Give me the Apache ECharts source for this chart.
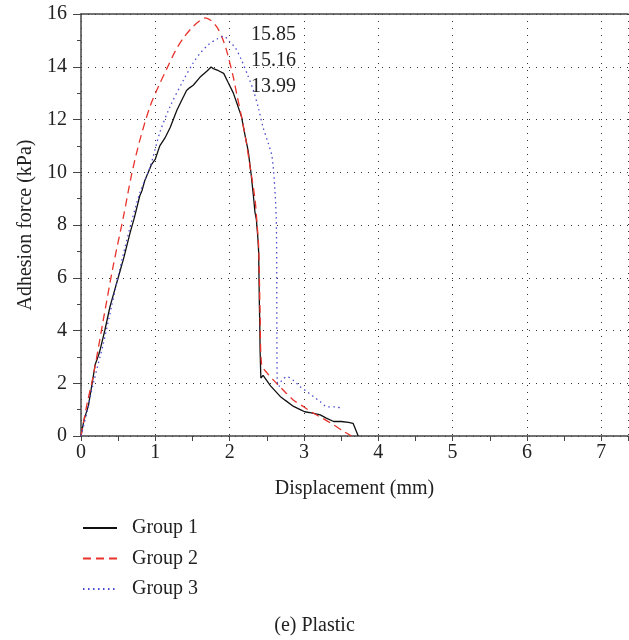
<!DOCTYPE html>
<html>
<head>
<meta charset="utf-8">
<script src="https://cdn.jsdelivr.net/npm/echarts@6/dist/echarts.min.js"></script>
<style>
  html, body { margin: 0; padding: 0; background: #fff; }
  #chart { width: 629px; height: 640px; }
</style>
</head>
<body>
<div id="chart"></div>
<script>
// 各组的粘附力曲线 [位移 mm, 力 kPa]
const group1 = [
  [0, 0], [0.04, 0.6], [0.1, 1.15], [0.15, 2.0], [0.19, 2.7], [0.24, 3.1], [0.26, 3.3],
  [0.32, 4.0], [0.39, 4.9], [0.45, 5.5], [0.52, 6.2], [0.58, 6.8], [0.66, 7.7], [0.72, 8.3],
  [0.79, 9.1], [0.82, 9.3], [0.86, 9.7], [0.95, 10.3], [1.0, 10.5], [1.06, 11.0], [1.13, 11.3],
  [1.2, 11.7], [1.29, 12.35], [1.35, 12.7], [1.42, 13.1], [1.46, 13.2], [1.51, 13.3], [1.6, 13.6],
  [1.7, 13.85], [1.75, 13.99], [1.78, 13.93], [1.85, 13.85], [1.92, 13.75], [1.98, 13.4],
  [2.05, 13.0], [2.1, 12.6], [2.16, 12.1], [2.2, 11.5], [2.25, 10.8], [2.29, 9.9], [2.32, 9.1],
  [2.34, 8.5], [2.36, 8.2], [2.38, 7.5], [2.39, 7.0], [2.4, 5.0], [2.405, 4.3], [2.41, 3.2],
  [2.42, 2.2], [2.45, 2.3], [2.5, 2.1], [2.55, 1.9], [2.6, 1.75], [2.68, 1.5], [2.75, 1.35],
  [2.86, 1.12], [2.95, 1.0], [3.01, 0.92], [3.1, 0.88], [3.22, 0.8], [3.3, 0.68], [3.4, 0.55],
  [3.5, 0.55], [3.6, 0.52], [3.66, 0.48], [3.68, 0.35], [3.73, 0]
];
const group2 = [
  [0, 0], [0.08, 1.2], [0.166, 2.3], [0.3, 4.4], [0.43, 6.4], [0.57, 8.3], [0.68, 9.9],
  [0.79, 11.2], [0.93, 12.5], [1.05, 13.3], [1.15, 13.9], [1.27, 14.6], [1.38, 15.1], [1.5, 15.5],
  [1.6, 15.75], [1.67, 15.85], [1.75, 15.75], [1.83, 15.5], [1.9, 15.1], [1.96, 14.6], [2.05, 13.6],
  [2.1, 12.9], [2.16, 12.1], [2.22, 11.2], [2.27, 10.3], [2.34, 9.0], [2.37, 8.0], [2.39, 7.2],
  [2.41, 4.6], [2.43, 2.7], [2.5, 2.4], [2.59, 2.12], [2.7, 1.8], [2.86, 1.36], [3.0, 1.1],
  [3.13, 0.86], [3.27, 0.64], [3.4, 0.42], [3.52, 0.2], [3.64, 0]
];
const group3 = [
  [0, 0], [0.08, 0.9], [0.166, 2.0], [0.3, 3.5], [0.41, 4.9], [0.52, 6.3], [0.65, 7.8],
  [0.79, 9.2], [0.93, 10.2], [1.06, 11.5], [1.2, 12.5], [1.38, 13.5], [1.5, 14.1], [1.6, 14.5],
  [1.72, 14.85], [1.83, 15.05], [1.92, 15.16], [2.0, 14.95], [2.08, 14.7], [2.16, 14.25],
  [2.24, 13.7], [2.32, 13.1], [2.39, 12.4], [2.45, 11.7], [2.52, 11.1], [2.57, 10.6], [2.61, 9.3],
  [2.63, 7.8], [2.64, 2.1], [2.66, 1.87], [2.7, 2.1], [2.77, 2.25], [2.86, 2.1], [2.95, 1.87],
  [3.04, 1.68], [3.13, 1.49], [3.22, 1.3], [3.31, 1.11], [3.42, 1.1], [3.53, 1.05]
];
const groupNames = ['Group 1', 'Group 2', 'Group 3'];
const peakLabels = ['15.85', '15.16', '13.99'];

const serif = '"Liberation Serif", "DejaVu Serif", serif';
const chart = echarts.init(document.getElementById('chart'));

const dotted = { color: '#333', width: 1, type: [1, 6] };
const textStyle = { fontFamily: serif, fontSize: 20, color: '#222' };

const option = {
  animation: false,
  backgroundColor: '#fff',
  grid: { left: 81, top: 14, right: 1, bottom: 204 },
  legend: {
    orient: 'vertical',
    left: 82,
    top: 513,
    padding: [5, 5, 5, 0],
    itemWidth: 34,
    itemHeight: 14,
    itemGap: 10.5,
    itemStyle: { opacity: 0 },
    textStyle: { ...textStyle, padding: [0, 0, 0, 10] },
    data: groupNames
  },
  xAxis: [{
    type: 'value',
    min: 0,
    max: 7.36,
    interval: 1,
    name: 'Displacement (mm)',
    nameLocation: 'middle',
    nameGap: 43,
    nameTextStyle: textStyle,
    axisLine: { show: true, onZero: false, lineStyle: { color: '#444', width: 1.5 } },
    axisTick: { show: true, length: 5, lineStyle: { color: '#444' } },
    minorTick: { show: true, splitNumber: 2, length: 5, lineStyle: { color: '#444' } },
    splitLine: { show: true, lineStyle: dotted },
    axisLabel: {
      ...textStyle,
      margin: 7,
      showMaxLabel: false,
      formatter: v => (Number.isInteger(v) ? String(v) : '')
    }
  }, {
    type: 'value',
    position: 'top',
    min: 0,
    max: 7.36,
    axisLine: { show: true, onZero: false, lineStyle: { color: '#444', width: 1.5 } },
    axisTick: { show: false },
    axisLabel: { show: false },
    splitLine: { show: false }
  }],
  yAxis: {
    type: 'value',
    min: 0,
    max: 16,
    interval: 2,
    name: 'Adhesion force (kPa)',
    nameLocation: 'middle',
    nameGap: 44,
    nameTextStyle: textStyle,
    axisLine: { show: true, onZero: false, lineStyle: { color: '#444', width: 1.5 } },
    axisTick: { show: true, length: 8, lineStyle: { color: '#444' } },
    minorTick: { show: true, splitNumber: 2, length: 4, lineStyle: { color: '#444' } },
    splitLine: { show: true, lineStyle: dotted },
    axisLabel: { ...textStyle, margin: 14 }
  },
  series: [
    {
      name: groupNames[0], type: 'line', data: group1, symbol: 'none',
      lineStyle: { color: '#111', width: 1.3, type: 'solid' }, itemStyle: { color: '#111' }
    },
    {
      name: groupNames[1], type: 'line', data: group2, symbol: 'none', smooth: 0.3,
      lineStyle: { color: '#e8322b', width: 1.3, type: [8, 5] }, itemStyle: { color: '#e8322b' }
    },
    {
      name: groupNames[2], type: 'line', data: group3, symbol: 'none', smooth: 0.3,
      lineStyle: { color: '#4a4ad0', width: 1.3, type: [1.5, 3.5] }, itemStyle: { color: '#4a4ad0' }
    }
  ],
  graphic: [
    ...peakLabels.map((t, i) => ({
      type: 'text', left: 251, top: 25 + i * 26,
      style: { text: t, fontFamily: serif, fontSize: 20, fill: '#222' }
    })),
    {
      type: 'text', left: 'center', top: 616,
      style: { text: '(e) Plastic', fontFamily: serif, fontSize: 20, fill: '#222' }
    }
  ]
};

chart.setOption(option);
</script>
</body>
</html>
